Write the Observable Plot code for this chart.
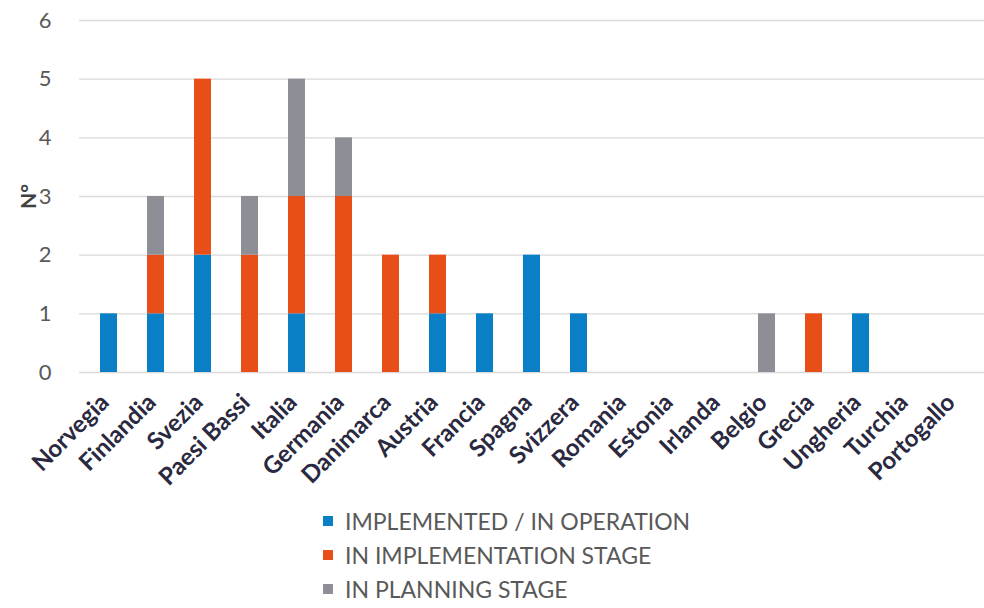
<!DOCTYPE html>
<html>
<head>
<meta charset="utf-8">
<script src="https://cdn.jsdelivr.net/npm/d3@7"></script>
<script src="https://cdn.jsdelivr.net/npm/@observablehq/plot@0.6"></script>
<style>
  html, body { margin: 0; padding: 0; background: #fff; }
  #chart { width: 984px; }
  .legend { margin-left: 323px; margin-top: 4px; font-family: Lato, "Open Sans", sans-serif; font-size: 23px; color: #595959; }
  .legend .row { display: flex; align-items: center; height: 34px; }
  .legend .sw { width: 10px; height: 10px; margin-right: 12px; }
</style>
</head>
<body>
<div id="chart"></div>
<script>
const countries = ["Norvegia","Finlandia","Svezia","Paesi Bassi","Italia","Germania","Danimarca","Austria","Francia","Spagna","Svizzera","Romania","Estonia","Irlanda","Belgio","Grecia","Ungheria","Turchia","Portogallo"];
const stages = ["IMPLEMENTED / IN OPERATION","IN IMPLEMENTATION STAGE","IN PLANNING STAGE"];
const colors = ["#0a7fc6","#e84e17","#8e8e96"];
const implemented    = [1,1,2,0,1,0,0,1,1,2,1,0,0,0,0,0,1,0,0];
const implementation = [0,1,3,2,2,3,2,1,0,0,0,0,0,0,0,1,0,0,0];
const planning       = [0,1,0,1,2,1,0,0,0,0,0,0,0,0,1,0,0,0,0];
const yTicks = [0,1,2,3,4,5,6];

const series = [implemented, implementation, planning];
const data = [];
countries.forEach((c, i) => {
  stages.forEach((s, k) => data.push({country: c, stage: s, value: series[k][i]}));
});

const chart = Plot.plot({
  width: 984,
  height: 500,
  marginTop: 20,
  marginLeft: 79,
  marginRight: 0,
  marginBottom: 128,
  style: {fontFamily: "Lato, 'Open Sans', sans-serif", background: "#fff"},
  x: {domain: countries, paddingInner: 0.64, paddingOuter: 0.32, label: null},
  y: {domain: [0, 6], label: "N°"},
  color: {domain: stages, range: colors},
  marks: [
    Plot.ruleY(yTicks, {stroke: "#d9d9d9", strokeWidth: 1.3}),
    Plot.barY(data, {x: "country", y: "value", fill: "stage", order: stages}),
    Plot.axisX({tickRotate: -45, tickSize: 0, tickPadding: 26, dx: -4, fontSize: 24, fontWeight: "bold", fill: "#2a2940", label: null}),
    Plot.axisY(yTicks, {tickSize: 0, tickPadding: 28, fontSize: 22, fill: "#595959", tickFormat: "d", label: "N°", labelAnchor: "center", labelArrow: "none", labelOffset: 58})
  ]
});
chart.querySelectorAll("[aria-label='y-axis label'] text").forEach(t => { t.setAttribute("font-size", "21"); t.setAttribute("font-weight", "bold"); t.setAttribute("fill", "#404040"); });
document.getElementById("chart").appendChild(chart);

const legend = d3.select("#chart").append("div").attr("class", "legend");
stages.forEach((s, k) => {
  const row = legend.append("div").attr("class", "row");
  row.append("div").attr("class", "sw").style("background", colors[k]);
  row.append("span").text(s);
});
</script>
</body>
</html>
